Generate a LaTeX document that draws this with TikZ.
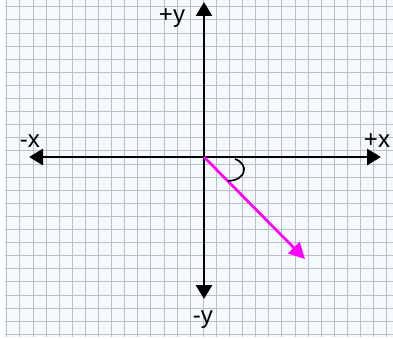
\documentclass[tikz,border=0pt]{standalone}
\usepackage{fontspec}
\setmainfont{Liberation Sans}
\usetikzlibrary{arrows.meta}
\definecolor{paper}{HTML}{F4F9FC}
\definecolor{gridline}{HTML}{B6C0C8}
\definecolor{vecpink}{HTML}{FF00FF}
\tikzstyle{axis} = [{Triangle[length=0.42cm, width=0.48cm]}-{Triangle[length=0.42cm, width=0.48cm]},
                    line width=0.08cm, black]
\tikzstyle{vector} = [-{Triangle[length=0.48cm, width=0.48cm]}, line width=0.08cm, vecpink]
\tikzstyle{lbl} = [inner sep=0pt, font=\fontsize{20.5}{24}\selectfont]

\begin{document}
\begin{tikzpicture}[x=0.03cm, y=-0.03cm]
    \useasboundingbox (0,0) rectangle (393,339);
    % graph paper
    \fill[paper] (5,0) rectangle (393,337);
    \foreach \gx in {0,...,29} \draw[gridline, line width=0.6pt] ({6.7+13.1*\gx},0) -- ++(0,337);
    \foreach \gy in {0,...,25} \draw[gridline, line width=0.6pt] (5,{6.7+13.1*\gy}) -- ++(388,0);

    \coordinate (O) at (204,157);
    \coordinate (xneg) at (29,157);
    \coordinate (xpos) at (381,157);
    \coordinate (ypos) at (204,2);
    \coordinate (yneg) at (204,299);
    \coordinate (tip) at (305,259);

    \draw[axis] (xneg) -- (xpos);
    \draw[axis] (yneg) -- (ypos);
    \draw[vector] (O) -- (tip);

    % angle mark
    \draw[line width=0.05cm] (235,159) .. controls (249,164) and (247,180) .. (228,181);

    \node[lbl] (ly) at (172,18) {+y};
    \node[lbl] (lny) at (203,320) {-y};
    \node[lbl] (lnx) at (30,141) {-x};
    \node[lbl] (lx) at (377,141) {+x};
\end{tikzpicture}
\end{document}
